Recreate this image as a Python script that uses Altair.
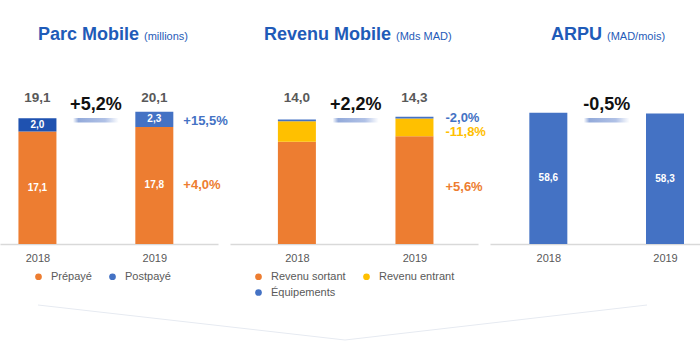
import altair as alt
import pandas as pd

# ---------------- data ----------------
years = [2018, 2019]

parc_segments = ["Prépayé", "Postpayé"]
parc_prepaye = [17.1, 17.8]
parc_postpaye = [2.0, 2.3]
parc_seg_growth = ["+4,0%", "+15,5%"]
parc_total_growth = "+5,2%"

rev_segments = ["Revenu sortant", "Revenu entrant", "Équipements"]
rev_sortant = [11.5, 12.1]
rev_entrant = [2.3, 2.0]
rev_equip = [0.2, 0.2]
rev_seg_growth = ["+5,6%", "-11,8%", "-2,0%"]
rev_total_growth = "+2,2%"

arpu_values = [58.6, 58.3]
arpu_growth = "-0,5%"

titles = ["Parc Mobile", "Revenu Mobile", "ARPU"]
units = ["(millions)", "(Mds MAD)", "(MAD/mois)"]

# ---------------- style ----------------
FONT = "Liberation Sans"
ORANGE = "#ED7D31"
BLUE = "#4472C4"
DARKBLUE = "#1F52B0"
YELLOW = "#FFC000"
TITLE_BLUE = "#1F5BB8"
GREY = "#595959"
H = 244
PX_PER_YEAR = 122.5
HALF_UL = 24 / PX_PER_YEAR


def rows(segs, series, growth):
    out = []
    for i, (s, vals, g) in enumerate(zip(segs, series, growth)):
        for y, v in zip(years, vals):
            out.append({"year": y, "seg": s, "value": v, "order": i, "growth": g})
    return pd.DataFrame(out)


parc_df = rows(parc_segments, [parc_prepaye, parc_postpaye], parc_seg_growth)
rev_df = rows(rev_segments, [rev_sortant, rev_entrant, rev_equip], rev_seg_growth)
arpu_df = pd.DataFrame({"year": years, "value": arpu_values})


def xscale(width, first_center):
    d0 = 2018 - first_center / PX_PER_YEAR
    return alt.Scale(domain=[d0, d0 + width / PX_PER_YEAR], nice=False, zero=False)


xaxis = alt.Axis(values=years, format="d", ticks=False, tickSize=0, grid=False,
                 labelFontSize=11, labelColor=GREY, labelPadding=8, labelFont=FONT,
                 labelFlush=False, domainColor="#D9D9D9", domainWidth=1.5, title=None)

LABEL = "replace(format(datum.value, '.1f'), '.', ',')"


def one(text):
    return alt.Chart(pd.DataFrame({"t": [text]}))


def header(i, x_title, x_unit):
    t = one(titles[i]).mark_text(font=FONT, fontSize=18, fontWeight="bold", color=TITLE_BLUE,
                                  align="left", baseline="alphabetic").encode(
        x=alt.value(x_title), y=alt.value(40), text="t:N")
    u = one(units[i]).mark_text(font=FONT, fontSize=11, color=TITLE_BLUE,
                                 align="left", baseline="alphabetic").encode(
        x=alt.value(x_unit), y=alt.value(40), text="t:N")
    return [t, u]


def mid_growth(label, xs):
    g = one(label).mark_text(font=FONT, fontSize=18, fontWeight="bold", color="#111111",
                              baseline="middle").encode(
        x=alt.X(datum=2018.5, type="quantitative", scale=xs), y=alt.value(105), text="t:N")
    grad = alt.Gradient(gradient="linear", x1=0, x2=1, y1=0, y2=0,
                        stops=[alt.GradientStop(color="#FFFFFF", offset=0),
                               alt.GradientStop(color="#93AADA", offset=0.12),
                               alt.GradientStop(color="#B0C1E6", offset=0.7),
                               alt.GradientStop(color="#FFFFFF", offset=1)])
    ul = one(label).mark_rect(color=grad).encode(
        x=alt.X(datum=2018.5 - HALF_UL, type="quantitative", scale=xs),
        x2=alt.datum(2018.5 + HALF_UL), y=alt.value(118), y2=alt.value(122.5))
    return [g, ul]


def stacked_panel(df, segs, colors, xs, ys, legend, growth_dx, growth_dy, idx, hx, ux,
                  total_growth, override=None, inside=True, legend_order=None):
    order = legend_order or segs
    cmap = dict(zip(segs, colors))
    cscale = alt.Scale(domain=order, range=[cmap[s] for s in order])
    color = alt.Color("seg:N", scale=cscale, legend=legend)
    if override is not None:
        color = alt.condition(override[0], alt.value(override[1]), color)
    bars = alt.Chart(df).mark_bar(size=38).encode(
        x=alt.X("year:Q", scale=xs, axis=xaxis),
        y=alt.Y("value:Q", stack="zero", scale=ys, axis=None),
        color=color,
        order=alt.Order("order:Q"))
    stacked = alt.Chart(df).transform_stack(
        stack="value", groupby=["year"], as_=["v0", "v1"],
        sort=[alt.SortField("order", "ascending")]
    ).transform_calculate(mid="(datum.v0 + datum.v1) / 2", label=LABEL)
    layers = [bars]
    if inside:
        layers.append(stacked.mark_text(font=FONT, fontSize=10, fontWeight="bold",
                                        color="white", baseline="middle").encode(
            x=alt.X("year:Q", scale=xs), y=alt.Y("mid:Q", scale=ys), text="label:N"))
    for seg, dy in zip(segs, growth_dy):
        layers.append(stacked.transform_filter(
            f"datum.year == 2019 && datum.seg == '{seg}'").mark_text(
            font=FONT, fontSize=13, fontWeight="bold", align="left", baseline="middle",
            dx=growth_dx, dy=dy).encode(
            x=alt.X("year:Q", scale=xs), y=alt.Y("mid:Q", scale=ys), text="growth:N",
            color=alt.Color("seg:N", scale=cscale, legend=None)))
    totals = alt.Chart(df).transform_aggregate(total="sum(value)", groupby=["year"]) \
        .transform_calculate(label="replace(format(datum.total, '.1f'), '.', ',')") \
        .mark_text(font=FONT, fontSize=13.5, fontWeight="bold", color=GREY,
                   baseline="middle").encode(
        x=alt.X("year:Q", scale=xs), y=alt.value(98), text="label:N")
    layers.append(totals)
    layers += mid_growth(total_growth, xs)
    layers += header(idx, hx, ux)
    return layers


# ---------------- panel 1 ----------------
xs1 = xscale(218, 34)
ys1 = alt.Scale(domain=[0, H / 6.58], nice=False, zero=True)
leg1 = alt.Legend(orient="none", legendX=33, legendY=271, direction="horizontal", title=None,
                  symbolType="circle", symbolSize=45, symbolStrokeWidth=0, labelFontSize=11,
                  labelFont=FONT, labelColor=GREY, labelOffset=7, columnPadding=15, padding=0)
p1_layers = stacked_panel(parc_df, parc_segments, [ORANGE, BLUE], xs1, ys1, leg1, 29, [0, 2],
                          0, 38, 144, parc_total_growth,
                          override=("datum.year == 2018 && datum.seg == 'Postpayé'", DARKBLUE))
chev_color = "#E6EAF1"
p1_layers.append(one("c").mark_rule(color=chev_color, strokeWidth=1).encode(
    x=alt.value(38), y=alt.value(305), x2=alt.value(345), y2=alt.value(340)))
p1_layers.append(one("c").mark_rule(color=chev_color, strokeWidth=1).encode(
    x=alt.value(345), y=alt.value(340), x2=alt.value(647), y2=alt.value(305)))
p1 = alt.layer(*p1_layers).properties(width=218, height=H)

# ---------------- panel 2 ----------------
xs2 = xscale(248, 64.5)
ys2 = alt.Scale(domain=[0, H / 8.9], nice=False, zero=True)
leg2 = alt.Legend(orient="none", legendX=23, legendY=271, columns=2, title=None,
                  symbolType="circle", symbolSize=45, symbolStrokeWidth=0, labelFontSize=11,
                  labelFont=FONT, labelColor=GREY, labelOffset=7, columnPadding=15,
                  rowPadding=4, padding=0)
p2_layers = stacked_panel(rev_df, rev_segments, [ORANGE, YELLOW, BLUE], xs2, ys2, leg2, 31,
                          [-3, 5, 0], 1, 34, 166, rev_total_growth, inside=False,
                          legend_order=["Revenu sortant", "Équipements", "Revenu entrant"])
p2 = alt.layer(*p2_layers).properties(width=248, height=H)

# ---------------- panel 3 ----------------
xs3 = xscale(210, 56)
ys3 = alt.Scale(domain=[0, H / 2.24], nice=False, zero=True)
arpu_base = alt.Chart(arpu_df).transform_calculate(label=LABEL, mid="datum.value / 2")
p3_layers = [
    arpu_base.mark_bar(size=38, color=BLUE).encode(
        x=alt.X("year:Q", scale=xs3, axis=xaxis), y=alt.Y("value:Q", scale=ys3, axis=None)),
    arpu_base.mark_text(font=FONT, fontSize=10, fontWeight="bold", color="white",
                        baseline="middle").encode(
        x=alt.X("year:Q", scale=xs3), y=alt.Y("mid:Q", scale=ys3), text="label:N"),
]
p3_layers += mid_growth(arpu_growth, xs3)
p3_layers += header(2, 61, 117)
p3 = alt.layer(*p3_layers).properties(width=210, height=H)

chart = alt.hconcat(p1, p2, p3, spacing=12, bounds="flush").resolve_scale(
    x="independent", y="independent", color="independent"
).properties(padding={"left": 0, "top": 0, "right": 0, "bottom": 0}).configure(
    font=FONT, background="white", view=alt.ViewConfig(stroke=None))

chart.save("out.html", embed_options={"renderer": "svg", "actions": False})
